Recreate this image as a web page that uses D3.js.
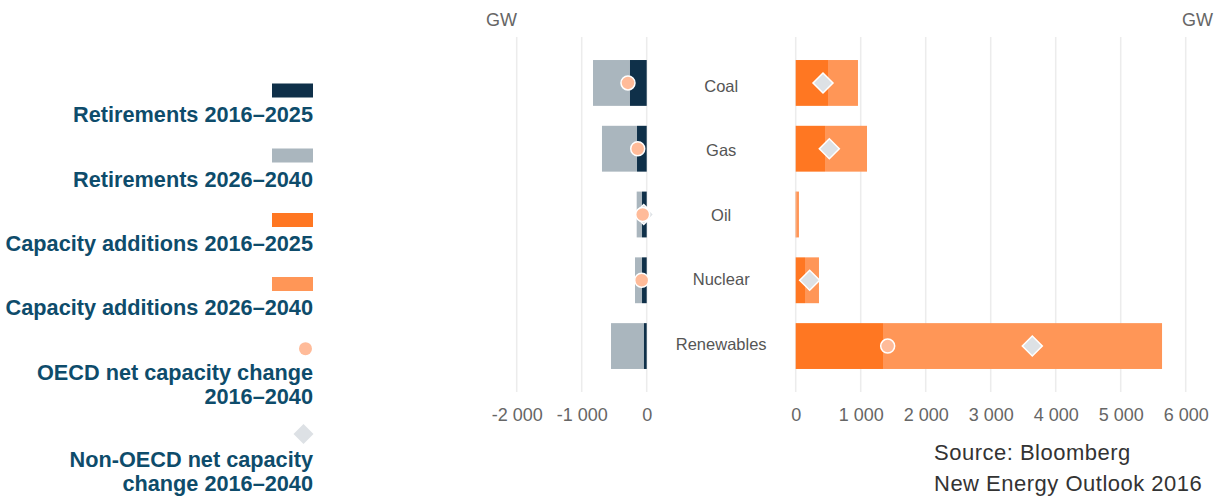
<!DOCTYPE html>
<html><head><meta charset="utf-8">
<script src="https://cdn.jsdelivr.net/npm/d3@7"></script>
<style>
body{margin:0;background:#fff;}
svg{display:block;font-family:"Liberation Sans",Arial,sans-serif;}
</style></head>
<body><svg id="chart" width="1221" height="497"></svg>
<script>
const categories = ["Coal","Gas","Oil","Nuclear","Renewables"];
const retire2016_2025 = [257, 149, 72, 72, 42];
const retire2026_2040 = [569, 539, 82, 108, 507];
const add2016_2025 = [497, 451, 10, 143, 1343];
const add2026_2040 = [461, 646, 40, 215, 4293];
const oecdNet = [-288, -138, -62, -77, 1415];
const nonOecdNet = [420, 517, -46, 215, 3640];
const leftTicks = [-2000, -1000, 0];
const rightTicks = [0, 1000, 2000, 3000, 4000, 5000, 6000];
const legendItems = [
  {type:"rect", color:"#0f3049", lines:["Retirements 2016\u20132025"]},
  {type:"rect", color:"#aab6be", lines:["Retirements 2026\u20132040"]},
  {type:"rect", color:"#ff7722", lines:["Capacity additions 2016\u20132025"]},
  {type:"rect", color:"#ff9657", lines:["Capacity additions 2026\u20132040"]},
  {type:"circle", color:"#ffbb99", lines:["OECD net capacity change","2016\u20132040"]},
  {type:"diamond", color:"#dde1e5", lines:["Non-OECD net capacity","change 2016\u20132040"]}
];

const C = {dark:"#0f3049", gray:"#aab6be", orange:"#ff7722", lorange:"#ff9657", circle:"#ffbb99", diamond:"#dde1e5"};
const svg = d3.select("#chart");
const yTop = 37, yBottom = 392;
const y = d3.scaleBand().domain(categories).range([yTop, yBottom]).paddingInner(0.303).paddingOuter(0.35);
const yLabel = d3.scalePoint().domain(categories).range([86, 344]);
const xL = d3.scaleLinear().domain([-2500, 0]).range([484.2, 646.7]);
const xR = d3.scaleLinear().domain([0, 6000]).range([795.7, 1185.7]);

// gridlines
svg.append("g").selectAll("line").data(leftTicks).join("line")
  .attr("x1", d=>xL(d)).attr("x2", d=>xL(d)).attr("y1", yTop).attr("y2", yBottom)
  .attr("stroke","#ececec").attr("stroke-width",1.5);
svg.append("g").selectAll("line").data(rightTicks).join("line")
  .attr("x1", d=>xR(d)).attr("x2", d=>xR(d)).attr("y1", yTop).attr("y2", yBottom)
  .attr("stroke","#ececec").attr("stroke-width",1.5);

// axes
const fmt = d => d3.format(",")(d).replace(/,/g, " ").replace("\u2212","-");
const axL = svg.append("g").attr("transform",`translate(0,${yBottom})`)
  .call(d3.axisBottom(xL).tickValues(leftTicks).tickFormat(fmt).tickSize(0).tickPadding(16));
const axR = svg.append("g").attr("transform",`translate(0,${yBottom})`)
  .call(d3.axisBottom(xR).tickValues(rightTicks).tickFormat(fmt).tickSize(0).tickPadding(16));
[axL, axR].forEach(a => {
  a.select(".domain").remove();
  a.selectAll("text").attr("font-size", 18).attr("fill", "#666").attr("font-family","Liberation Sans, Arial, sans-serif");
});

// bars
const rows = categories.map((c,i)=>({c, r1:retire2016_2025[i], r2:retire2026_2040[i], a1:add2016_2025[i], a2:add2026_2040[i], o:oecdNet[i], n:nonOecdNet[i]}));
const gb = svg.append("g");
gb.selectAll(".r2").data(rows).join("rect")
  .attr("x", d=>xL(-(d.r1+d.r2))).attr("width", d=>xL(-d.r1)-xL(-(d.r1+d.r2)))
  .attr("y", d=>y(d.c)).attr("height", y.bandwidth()).attr("fill", C.gray);
gb.selectAll(".r1").data(rows).join("rect")
  .attr("x", d=>xL(-d.r1)).attr("width", d=>xL(0)-xL(-d.r1))
  .attr("y", d=>y(d.c)).attr("height", y.bandwidth()).attr("fill", C.dark);
gb.selectAll(".a1").data(rows).join("rect")
  .attr("x", xR(0)).attr("width", d=>xR(d.a1)-xR(0))
  .attr("y", d=>y(d.c)).attr("height", y.bandwidth()).attr("fill", C.orange);
gb.selectAll(".a2").data(rows).join("rect")
  .attr("x", d=>xR(d.a1)).attr("width", d=>xR(d.a1+d.a2)-xR(d.a1))
  .attr("y", d=>y(d.c)).attr("height", y.bandwidth()).attr("fill", C.lorange);

const xPos = v => v < 0 ? xL(v) : xR(v);
const cy = d => y(d.c) + y.bandwidth()/2;
const dsym = d3.symbol().type(d3.symbolSquare).size(200);
svg.append("g").selectAll("path").data(rows).join("path")
  .attr("d", dsym)
  .attr("transform", d=>`translate(${xPos(d.n)},${cy(d)}) rotate(45)`)
  .attr("fill", C.diamond).attr("stroke","#fff").attr("stroke-width",1.5);
svg.append("g").selectAll("circle").data(rows).join("circle")
  .attr("cx", d=>xPos(d.o)).attr("cy", cy).attr("r", 7)
  .attr("fill", C.circle).attr("stroke","#fff").attr("stroke-width",1.5);

// category labels
svg.append("g").selectAll("text").data(categories).join("text")
  .attr("x", (xL(0)+xR(0))/2).attr("y", d=>yLabel(d)).attr("dy","0.35em")
  .attr("text-anchor","middle").attr("font-size",16.5).attr("fill","#555").text(d=>d);

// GW labels
svg.append("text").attr("x",486).attr("y",26).attr("font-size",18).attr("fill","#666").text("GW");
svg.append("text").attr("x",1213).attr("y",26).attr("text-anchor","end").attr("font-size",18).attr("fill","#666").text("GW");

// source
svg.append("text").attr("x",934).attr("y",460).attr("font-size",22).attr("letter-spacing",0.5).attr("fill","#333").text("Source: Bloomberg");
svg.append("text").attr("x",934).attr("y",491).attr("font-size",22).attr("letter-spacing",0.5).attr("fill","#333").text("New Energy Outlook 2016");

// legend
const lg = svg.append("g");
const symY = [90.5, 155.5, 220, 284, 348.7, 434];
const textY = [[121.7],[186.7],[250.5],[315],[380,403.5],[467,491]];
legendItems.forEach((it,i)=>{
  if (it.type==="rect") lg.append("rect").attr("x",272).attr("y",symY[i]-7).attr("width",41).attr("height",14).attr("fill",it.color);
  else if (it.type==="circle") lg.append("circle").attr("cx",305.5).attr("cy",symY[i]).attr("r",6.5).attr("fill",it.color);
  else lg.append("path").attr("d",dsym).attr("transform",`translate(303.5,${symY[i]}) rotate(45)`).attr("fill",it.color);
  it.lines.forEach((ln,j)=>{
    lg.append("text").attr("x",313).attr("y",textY[i][j]).attr("text-anchor","end")
      .attr("font-size",21.7).attr("font-weight","bold").attr("fill","#0e4c6b").text(ln);
  });
});
</script></body></html>
